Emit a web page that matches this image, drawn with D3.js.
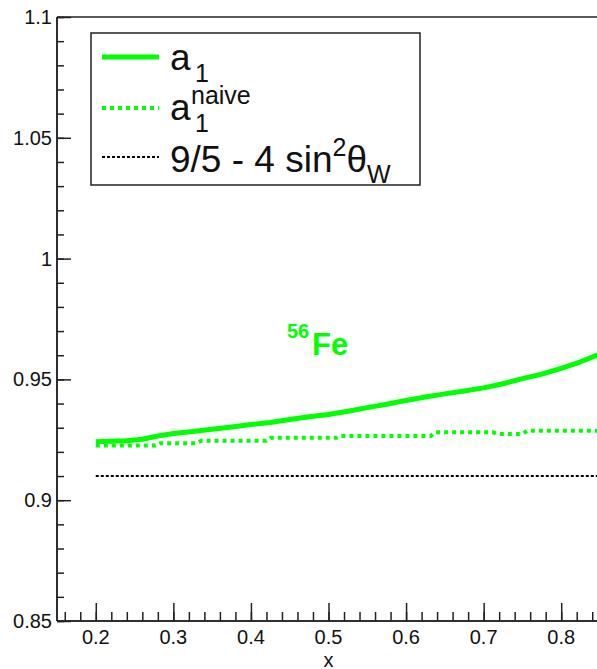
<!DOCTYPE html>
<html>
<head>
<meta charset="utf-8">
<script src="https://cdn.jsdelivr.net/npm/d3@7"></script>
<style>
  html, body { margin: 0; padding: 0; background: #fff; }
  svg { display: block; font-family: "Liberation Sans", Arial, Helvetica, sans-serif; }
</style>
</head>
<body>
<svg id="chart" width="597" height="669"></svg>
<script>
// Bjorken x grid and the a1 coefficient for 56Fe
const xA1 = [0.20, 0.22, 0.24, 0.26, 0.28, 0.30, 0.325, 0.35, 0.375, 0.40, 0.425, 0.45, 0.475,
             0.50, 0.525, 0.55, 0.575, 0.60, 0.625, 0.65, 0.675, 0.70, 0.725, 0.75, 0.775,
             0.80, 0.825, 0.85];
const a1 = [0.9242, 0.9244, 0.9246, 0.9252, 0.9266, 0.9276, 0.9284, 0.9294, 0.9303, 0.9313,
            0.9322, 0.9334, 0.9345, 0.9355, 0.9368, 0.9383, 0.9397, 0.9413, 0.9427, 0.9440,
            0.9452, 0.9465, 0.9482, 0.9503, 0.9522, 0.9546, 0.9573, 0.9605];

// naive estimate of a1
const xNaive = [0.20, 0.277, 0.283, 0.33, 0.336, 0.42, 0.426, 0.51, 0.516, 0.632, 0.638,
                0.712, 0.718, 0.75, 0.756, 0.85];
const a1Naive = [0.9226, 0.9226, 0.9236, 0.9236, 0.9246, 0.9246, 0.9258, 0.9258, 0.9266,
                 0.9266, 0.9281, 0.9281, 0.9274, 0.9274, 0.9287, 0.9287];

// reference value 9/5 - 4 sin^2(theta_W)
const xRef = [0.20, 0.85];
const refValue = [0.91, 0.91];

const yMajorTicks = [0.85, 0.9, 0.95, 1, 1.05, 1.1];
const yTickLabels = ["0.85", "0.9", "0.95", "1", "1.05", "1.1"];
const xMajorTicks = [0.2, 0.3, 0.4, 0.5, 0.6, 0.7, 0.8];
const xTickLabels = ["0.2", "0.3", "0.4", "0.5", "0.6", "0.7", "0.8"];

const GREEN = "#00ff00";
const svg = d3.select("#chart");

const x = d3.scaleLinear().domain([0.15, 0.85]).range([57, 600]);
const y = d3.scaleLinear().domain([0.85, 1.1]).range([621, 17]);

// frame: left axis, bottom axis, top edge
const axisColor = "#222";
svg.append("line").attr("x1", x(0.15)).attr("x2", x(0.85)).attr("y1", y(1.1)).attr("y2", y(1.1))
  .attr("stroke", axisColor).attr("stroke-width", 1.5);

// y axis with ticks pointing into the frame
const yMinor = d3.range(85, 111).map(v => v / 100);
const yAxis = svg.append("g").attr("transform", `translate(${x(0.15)},0)`)
  .call(d3.axisRight(y).tickValues(yMinor).tickSize(7).tickFormat(""));
yAxis.append("g").call(d3.axisRight(y).tickValues(yMajorTicks).tickSize(14).tickFormat(""));
yAxis.selectAll("path, line").attr("stroke", axisColor).attr("stroke-width", 1.5);
yAxis.selectAll(".domain").attr("d", `M0,${y(0.85)}V${y(1.1)}`);

svg.append("g").selectAll("text").data(yMajorTicks).join("text")
  .attr("x", 52).attr("y", d => y(d) + 7)
  .attr("text-anchor", "end").attr("font-size", 20).attr("fill", "#111")
  .text((d, i) => yTickLabels[i]);

// x axis with ticks pointing up
const xMinor = d3.range(16, 86, 2).map(v => v / 100);
const xAxis = svg.append("g").attr("transform", `translate(0,${y(0.85)})`)
  .call(d3.axisTop(x).tickValues(xMinor).tickSize(9).tickFormat(""));
xAxis.append("g").call(d3.axisTop(x).tickValues(xMajorTicks).tickSize(18).tickFormat(""));
xAxis.selectAll("path, line").attr("stroke", axisColor).attr("stroke-width", 1.5);
xAxis.selectAll(".domain").attr("d", `M${x(0.15)},0H${x(0.85)}`);

svg.append("g").selectAll("text").data(xMajorTicks).join("text")
  .attr("x", d => x(d)).attr("y", 644)
  .attr("text-anchor", "middle").attr("font-size", 20).attr("fill", "#111")
  .text((d, i) => xTickLabels[i]);

svg.append("text").attr("x", x(0.5)).attr("y", 667)
  .attr("text-anchor", "middle").attr("font-size", 20).attr("fill", "#111").text("x");

// curves
const line = d3.line().x(d => x(d[0])).y(d => y(d[1]));
const pts = (xs, ys) => xs.map((v, i) => [v, ys[i]]);

svg.append("path").datum(pts(xRef, refValue)).attr("d", line)
  .attr("fill", "none").attr("stroke", "#000").attr("stroke-width", 2)
  .attr("stroke-dasharray", "3,2");

svg.append("path").datum(pts(xNaive, a1Naive)).attr("d", line)
  .attr("fill", "none").attr("stroke", GREEN).attr("stroke-width", 4)
  .attr("stroke-dasharray", "4,4");

svg.append("path").datum(pts(xA1, a1)).attr("d", line)
  .attr("fill", "none").attr("stroke", GREEN).attr("stroke-width", 5)
  .attr("stroke-linejoin", "round");

// nucleus label
const fe = svg.append("text").attr("x", 287).attr("y", 355)
  .attr("fill", GREEN).attr("font-weight", "bold");
fe.append("tspan").attr("font-size", 20).attr("dy", -17).text("56");
fe.append("tspan").attr("font-size", 31).attr("x", 312).attr("dy", 17).text("Fe");

// legend
const lg = svg.append("g");
lg.append("rect").attr("x", 91).attr("y", 33).attr("width", 329).attr("height", 152)
  .attr("fill", "#fff").attr("stroke", "#222").attr("stroke-width", 1.5);

lg.append("line").attr("x1", 102).attr("x2", 159).attr("y1", 57).attr("y2", 57)
  .attr("stroke", GREEN).attr("stroke-width", 5);
lg.append("line").attr("x1", 102).attr("x2", 159).attr("y1", 108).attr("y2", 108)
  .attr("stroke", GREEN).attr("stroke-width", 4).attr("stroke-dasharray", "4,4");
lg.append("line").attr("x1", 102).attr("x2", 159).attr("y1", 157).attr("y2", 157)
  .attr("stroke", "#000").attr("stroke-width", 2).attr("stroke-dasharray", "3,2");

const t1 = lg.append("text").attr("x", 170).attr("y", 70).attr("font-size", 37).attr("fill", "#111");
t1.append("tspan").text("a");
t1.append("tspan").attr("font-size", 25).attr("x", 195).attr("dy", 12).text("1");

const t2 = lg.append("text").attr("x", 170).attr("y", 120).attr("font-size", 37).attr("fill", "#111");
t2.append("tspan").text("a");
t2.append("tspan").attr("font-size", 25).attr("x", 195).attr("dy", 12).text("1");
t2.append("tspan").attr("font-size", 25).attr("x", 191).attr("dy", -28).text("naive");

const t3 = lg.append("text").attr("x", 170).attr("y", 172).attr("font-size", 37).attr("fill", "#111");
t3.append("tspan").text("9/5 - 4 sin");
t3.append("tspan").attr("font-size", 25).attr("dy", -16).text("2");
t3.append("tspan").attr("dy", 16).text("θ");
t3.append("tspan").attr("font-size", 25).attr("dy", 11).text("W");
</script>
</body>
</html>
